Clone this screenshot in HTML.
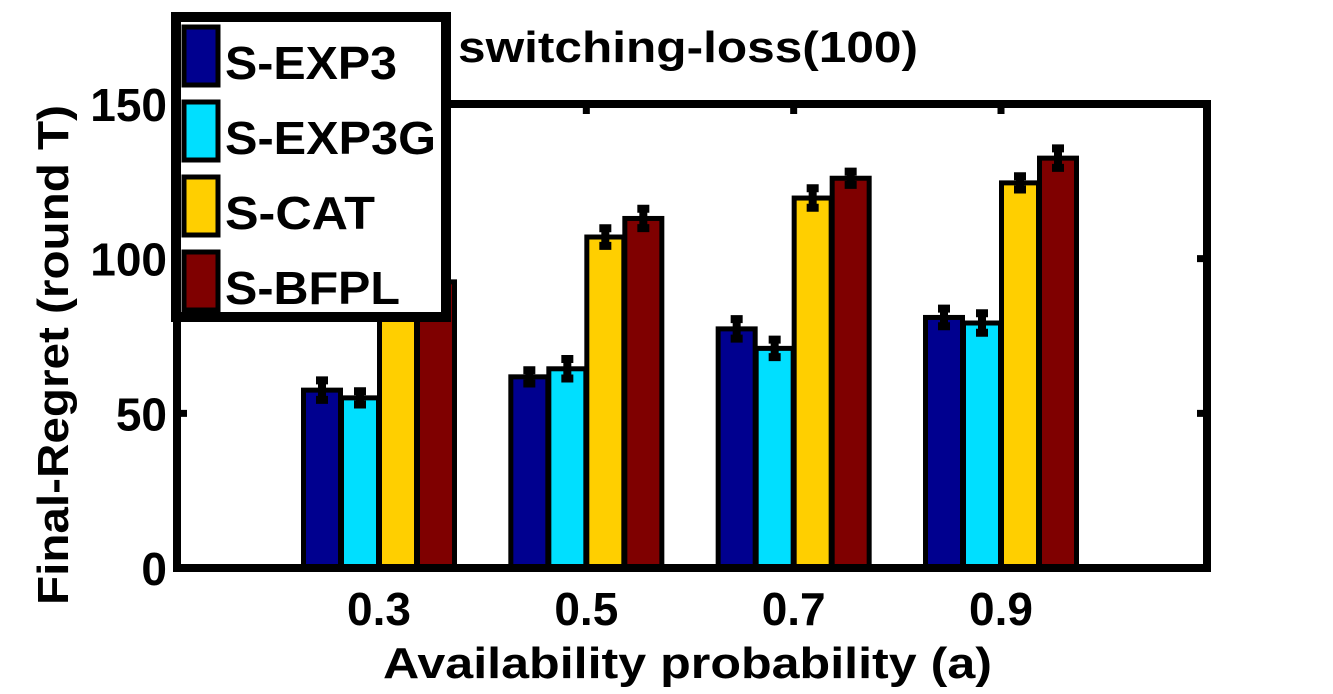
<!DOCTYPE html>
<html><head><meta charset="utf-8"><style>
body{margin:0;background:#fff;}
svg text{font-family:"Liberation Sans",sans-serif;font-weight:bold;fill:#000;}
</style></head><body>
<svg id="chart" width="1333" height="689">
<g id="bars"></g>
<rect x="177" y="104" width="1030" height="464" fill="none" stroke="#000" stroke-width="8"/>
<g id="axes"></g>
<text x="458" y="62" font-size="44" textLength="460" lengthAdjust="spacingAndGlyphs">switching-loss(100)</text>
<text x="383" y="678" font-size="44" textLength="609" lengthAdjust="spacingAndGlyphs">Availability probability (a)</text>
<text transform="translate(68,605) rotate(-90)" font-size="44" textLength="500" lengthAdjust="spacingAndGlyphs">Final-Regret (round T)</text>
<g id="legend"></g>
</svg>
<script>
const categories=["0.3","0.5","0.7","0.9"];
const catValues=[0.3,0.5,0.7,0.9];
const seriesNames=["S-EXP3","S-EXP3G","S-CAT","S-BFPL"];
const expValues=[57.5,61.8,77.3,81];
const expgValues=[55,64.4,71,79.2];
const catSeries=[88,107,119.6,124.5];
const bfplValues=[92.5,113,126,132.5];
const errValues=[2.5,1.5,2.5,2.2];
const yTicks=[0,50,100,150];
const colors=["#00008f","#00dfff","#ffcf00","#7f0000"];
const NS="http://www.w3.org/2000/svg";
function y(v){return 568-(v/150)*464;}
function x(v){return 379+(v-0.3)/0.6*622;}
const allSeries=[expValues,expgValues,catSeries,bfplValues];
const bars=document.getElementById('bars');
const bw=37;
allSeries.forEach((s,si)=>{
 s.forEach((v,ci)=>{
  const cx=x(catValues[ci])+(si-1.5)*38;
  const r=document.createElementNS(NS,'rect');
  r.setAttribute('x',cx-bw/2);r.setAttribute('y',y(v));
  r.setAttribute('width',bw);r.setAttribute('height',568-y(v));
  r.setAttribute('fill',colors[si]);r.setAttribute('stroke','#000');r.setAttribute('stroke-width','5');
  
  
  bars.appendChild(r);
  const e=errValues[(ci+si)%4];
  const p=document.createElementNS(NS,'path');
  const x0=cx;
  p.setAttribute('d',`M${x0},${y(v+e)-4}V${y(v-e)+4}M${x0-6},${y(v+e)-2}H${x0+6}M${x0-6},${y(v-e)+2}H${x0+6}`);
  p.setAttribute('stroke','#000');p.setAttribute('stroke-width','8');
  
  
  bars.appendChild(p);
 });
});
const axes=document.getElementById('axes');
yTicks.forEach(t=>{
 const tx=document.createElementNS(NS,'text');
 tx.setAttribute('x',167);tx.setAttribute('y',y(t)+17);tx.setAttribute('text-anchor','end');tx.setAttribute('font-size','46');
 tx.textContent=t;
 
 
 axes.appendChild(tx);
 const tk=document.createElementNS(NS,'path');
 tk.setAttribute('d',`M177,${y(t)}h10M1207,${y(t)}h-10`);tk.setAttribute('stroke','#000');tk.setAttribute('stroke-width','7');
 
 
 axes.appendChild(tk);
});
categories.forEach((c,i)=>{
 const tx=document.createElementNS(NS,'text');
 tx.setAttribute('x',x(catValues[i]));tx.setAttribute('y',625);tx.setAttribute('text-anchor','middle');tx.setAttribute('font-size','46');
 tx.textContent=c;
 
 
 axes.appendChild(tx);
 const tk=document.createElementNS(NS,'path');
 tk.setAttribute('d',`M${x(catValues[i])},104v10`);tk.setAttribute('stroke','#000');tk.setAttribute('stroke-width','7');
 
 
 axes.appendChild(tk);
});
const lg=document.getElementById('legend');
const box=document.createElementNS(NS,'rect');
box.setAttribute('x',176);box.setAttribute('y',17);box.setAttribute('width',270);box.setAttribute('height',300);
box.setAttribute('fill','#fff');box.setAttribute('stroke','#000');box.setAttribute('stroke-width','10');


lg.appendChild(box);
const legW=[172,211,150,175];
seriesNames.forEach((n,i)=>{
 const yy=27+i*75;
 const r=document.createElementNS(NS,'rect');
 r.setAttribute('x',184);r.setAttribute('y',yy);r.setAttribute('width',34);r.setAttribute('height',58);
 r.setAttribute('fill',colors[i]);r.setAttribute('stroke','#000');r.setAttribute('stroke-width','5');
 
 
 lg.appendChild(r);
 const t=document.createElementNS(NS,'text');
 t.setAttribute('x',225);t.setAttribute('y',yy+52);t.setAttribute('font-size','46');
 t.setAttribute('textLength',legW[i]);t.setAttribute('lengthAdjust','spacingAndGlyphs');
 t.textContent=n;
 
 
 lg.appendChild(t);
});
</script>
</body></html>
